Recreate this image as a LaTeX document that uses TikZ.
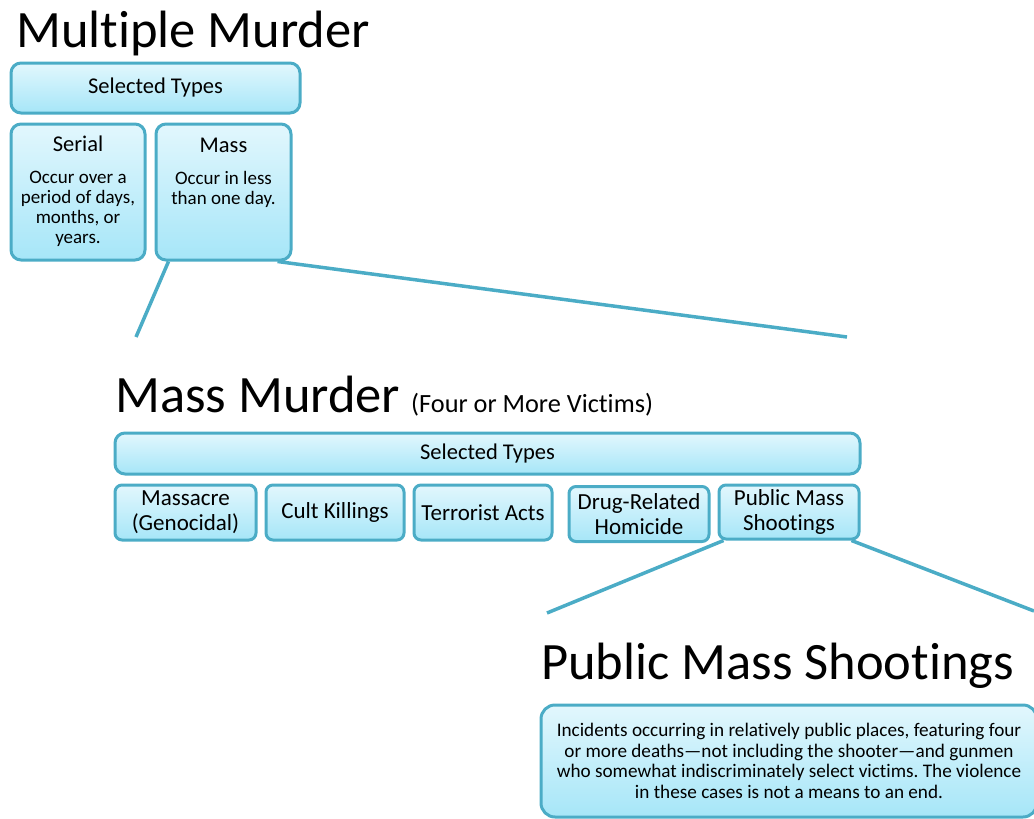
\documentclass[tikz,border=0pt]{standalone}
\usepackage{fontspec}
\setmainfont{Carlito}[Ligatures={NoCommon,TeX}]
\frenchspacing
\definecolor{boxline}{HTML}{4BACC6}
\definecolor{boxtop}{HTML}{E2F7FD}
\definecolor{boxbottom}{HTML}{A6E6F8}
\begin{document}
\begin{tikzpicture}[x=1pt,y=-1pt,
    typebox/.style={draw=boxline,line width=3pt,rounded corners=10pt,
      top color=boxtop,bottom color=boxbottom,inner sep=0pt,anchor=north west},
    smallbox/.style={typebox,rounded corners=7pt,minimum height=55pt,align=center,
      font=\fontsize{23}{25}\selectfont},
    link/.style={draw=boxline,line width=3.5pt},
    heading/.style={anchor=base west,inner sep=0pt,font=\fontsize{52.5}{56}\selectfont}]
    \useasboundingbox (0,0) rectangle (1034,819);
    % level one
    \node[heading] (multi) at (16,47) {Multiple Murder};
    \node[typebox,minimum width=289pt,minimum height=50pt,font=\fontsize{22.5}{26}\selectfont] (sel1) at (9.5,61.5) {Selected Types};
    \node[typebox,minimum width=134pt,minimum height=136pt] (serial) at (9.5,122.5) {};
    \node[typebox,minimum width=135pt,minimum height=136pt] (mass) at (154.5,122.5) {};
    \node[below,align=center,font=\fontsize{19}{20}\selectfont] (serialtxt) at ([yshift=-10pt]serial.north)
        {{\fontsize{22.5}{26}\selectfont Serial}\\[12pt]Occur over a\\period of days,\\months, or\\years.};
    \node[below,align=center,font=\fontsize{19}{20}\selectfont] (masstxt) at ([yshift=-12pt]mass.north)
        {{\fontsize{22.5}{26}\selectfont Mass}\\[12pt]Occur in less\\than one day.};
    \coordinate (c1) at (136,337);
    \coordinate (c2) at (847,337);
    \draw[link] ([xshift=14pt]mass.south west) -- (c1);
    \draw[link] ([xshift=-15pt]mass.south east) -- (c2);
    % level two
    \node[heading] (mmurder) at (115,412) {Mass Murder};
    \node[anchor=base west,inner sep=0pt,font=\fontsize{26.3}{28}\selectfont] (victims) at (411,412) {(Four or More Victims)};
    \node[typebox,minimum width=745pt,minimum height=41pt,font=\fontsize{22.5}{26}\selectfont] (sel2) at (113.5,431.5) {Selected Types};
    \node[smallbox,minimum width=141pt] (massacre) at (113.5,483.5) {Massacre\\(Genocidal)};
    \node[smallbox,minimum width=138pt] (cult) at (264.5,483.5) {Cult Killings};
    \node[smallbox,minimum width=138pt] (terror) at (412.5,483.5) {Terrorist Acts};
    \node[smallbox,minimum width=140pt] (drug) at (567.5,485) {Drug-Related\\Homicide};
    \node[smallbox,minimum width=140pt,minimum height=54pt] (public) at (717.5,483.5) {Public Mass\\Shootings};
    \coordinate (c3) at (547,613);
    \coordinate (c4) at (1034,611);
    \draw[link] ([xshift=6pt]public.south west) -- (c3);
    \draw[link] ([xshift=-9pt]public.south east) -- (c4);
    % level three
    \node[heading] (pms) at (541,679) {Public Mass Shootings};
    \node[typebox,rounded corners=14pt,minimum width=496pt,minimum height=112pt,align=center,
        font=\fontsize{19.2}{20.6}\selectfont] (define) at (539.5,703.5)
        {Incidents occurring in relatively public places, featuring four\\
         or more deaths---not including the shooter---and gunmen\\
         who somewhat indiscriminately select victims. The violence\\
         in these cases is not a means to an end.};
\end{tikzpicture}
\end{document}
